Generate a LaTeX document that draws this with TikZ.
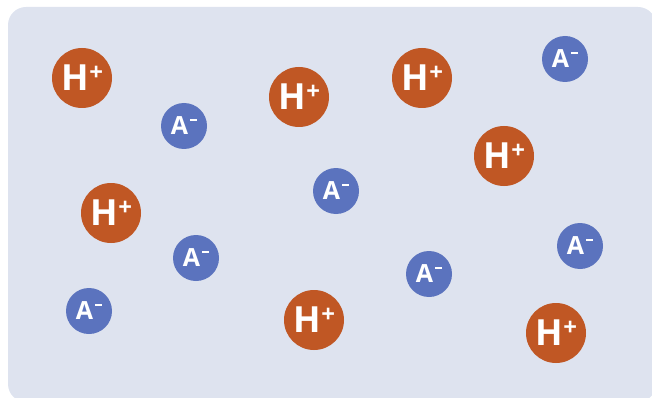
\documentclass[tikz,border=0pt]{standalone}
\usepackage{fontspec}
\setmainfont{Open Sans}
\definecolor{bgc}{RGB}{222,227,239}
\definecolor{hcol}{RGB}{192,87,36}
\definecolor{acol}{RGB}{91,115,190}
\newcommand{\hion}{\fontsize{36}{36}\selectfont\bfseries H\kern0.02em\raisebox{0.3em}{\fontsize{24}{24}\selectfont +}}
\newcommand{\aion}{\fontsize{25}{25}\selectfont\bfseries A\kern0.08em\raisebox{0.55em}{\rule{0.28em}{0.08em}}}
\tikzset{
  hball/.style={circle, fill=hcol, minimum size=60pt, inner sep=0pt, text=white},
  aball/.style={circle, fill=acol, minimum size=46pt, inner sep=0pt, text=white},
}
\begin{document}
\begin{tikzpicture}[x=1pt,y=-1pt]
\useasboundingbox (0,0) rectangle (652,398);
\begin{scope}
\clip (0,0) rectangle (652,398);
\fill[bgc, rounded corners=18pt] (8,7) rectangle (656,402);
\end{scope}
\node[hball] (h1) at (82,78) {\hion};
\node[hball] (h2) at (299,97) {\hion};
\node[hball] (h3) at (422,78) {\hion};
\node[hball] (h4) at (504,156) {\hion};
\node[hball] (h5) at (111,213) {\hion};
\node[hball] (h6) at (314,320) {\hion};
\node[hball] (h7) at (556,333) {\hion};
\node[aball] (a1) at (565,59) {\aion};
\node[aball] (a2) at (184,126) {\aion};
\node[aball] (a3) at (336,191) {\aion};
\node[aball] (a4) at (196,258) {\aion};
\node[aball] (a5) at (580,246) {\aion};
\node[aball] (a6) at (429,274) {\aion};
\node[aball] (a7) at (89,311) {\aion};
\end{tikzpicture}
\end{document}
